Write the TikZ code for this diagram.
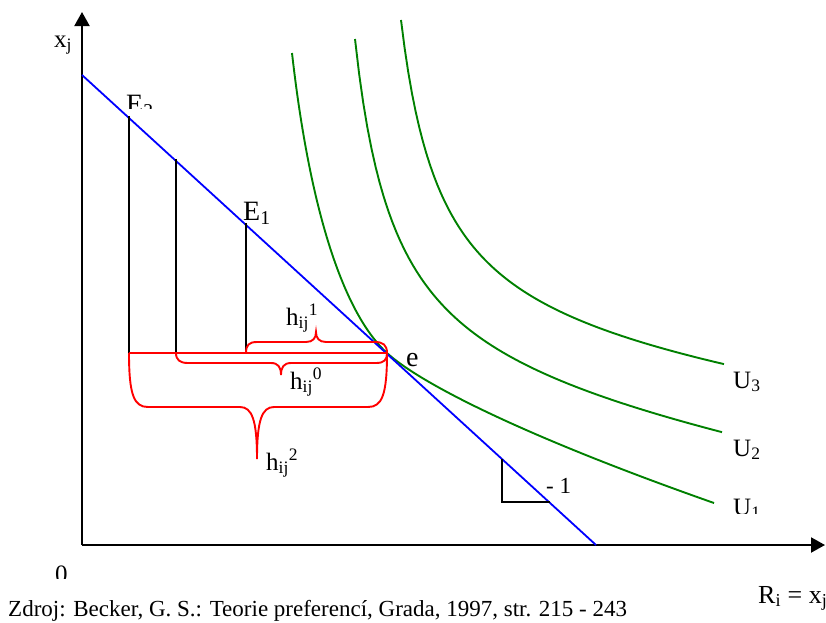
\documentclass[tikz,border=0pt]{standalone}
\usepackage{fontspec}
\setmainfont{Liberation Serif}
\usetikzlibrary{arrows.meta}
\definecolor{ugreen}{RGB}{0,128,0}
\definecolor{ublue}{RGB}{0,0,255}
\definecolor{ured}{RGB}{255,0,0}
\begin{document}
\begin{tikzpicture}[x=1pt,y=-1pt,
  axisline/.style={line width=2pt,-{Triangle[length=14pt,width=15pt]}},
  budget/.style={ublue,line width=1.8pt},
  indiff/.style={ugreen,line width=1.9pt},
  drop/.style={black,line width=1.9pt},
  bracepath/.style={ured,line width=1.9pt},
  lbl/.style={anchor=base west,inner sep=0pt,font=\fontsize{25}{30}\selectfont},
  biglbl/.style={anchor=base west,inner sep=0pt,font=\fontsize{28}{32}\selectfont}]
\useasboundingbox (0,0) rectangle (826,622);

% key points
\coordinate (O) at (82,545);
\coordinate (ytip) at (82,12);
\coordinate (xtip) at (825,545);
\coordinate (B0) at (82,75);
\coordinate (B1) at (596,545);
\coordinate (e) at (387,353);
\coordinate (P2) at (129,116);
\coordinate (P2b) at (129,353);
\coordinate (P3) at (176,159);
\coordinate (P3b) at (176,353);
\coordinate (P1) at (246,223);
\coordinate (P1b) at (246,353);
\coordinate (T1) at (502,459);
\coordinate (T2) at (502,502);
\coordinate (T3) at (550,502);
\coordinate (U1s) at (292,53);
\coordinate (U1e) at (714,503);

% axes
\draw[axisline] (O) -- (ytip);
\draw[axisline] (O) -- (xtip);

% indifference curves
\draw[indiff] (U1s) .. controls (310.8,219.3) and (346.1,315.5) .. (e)
  .. controls (418.4,381.6) and (515.9,433.3) .. (U1e);
\draw[indiff] plot[domain=355:722,samples=90] (\x,{343.4+0.1727*\x-14628/(\x-315)});
\draw[indiff] plot[domain=401:724,samples=90] (\x,{309.1+0.129*\x-13975/(\x-360)});

% budget line
\draw[budget] (B0) -- (B1);

% vertical drops
\draw[drop] (P2) -- (P2b);
\draw[drop] (P3) -- (P3b);
\draw[drop] (P1) -- (P1b);

% slope triangle
\draw[drop] (T1) -- (T2) -- (T3);

% red base line
\draw[bracepath] (P2b) -- (e);

% brace h1 (above)
\draw[bracepath] (P1b) .. controls (246,345) and (249,342) .. (257,342) -- (306,342)
  .. controls (313,342) and (316,338) .. (316,332)
  .. controls (316,338) and (319,342) .. (326,342) -- (375,342)
  .. controls (383,342) and (387,345) .. (e);
% brace h0 (below)
\draw[bracepath] (P3b) .. controls (176,360) and (180,363) .. (188,363) -- (271,363)
  .. controls (278,363) and (281,367) .. (281,375)
  .. controls (281,367) and (284,363) .. (291,363) -- (376,363)
  .. controls (384,363) and (387,360) .. (e);
% brace h2 (big, below)
\draw[bracepath] (P2b) .. controls (129,395) and (134,407) .. (148,407) -- (240,407)
  .. controls (252,407) and (257,420) .. (257,459)
  .. controls (257,420) and (262,407) .. (274,407) -- (368,407)
  .. controls (382,407) and (387,395) .. (e);

% labels
\node[lbl] (lxj) at (54,47) {x\textsubscript{j}};
\begin{scope}
  \clip (100,80) rectangle (170,108);
  \node[biglbl] (lE2) at (126,113) {E\textsubscript{2}};
\end{scope}
\node[biglbl] (lE1) at (243,220) {E\textsubscript{1}};
\node[lbl] (lh1) at (286,325) {h\textsubscript{ij}\textsuperscript{1}};
\node[lbl] (lh0) at (290,389) {h\textsubscript{ij}\textsuperscript{0}};
\node[lbl] (lh2) at (266,470) {h\textsubscript{ij}\textsuperscript{2}};
\node[biglbl] (le) at (406,366) {e};
\node[lbl] (lU3) at (733,388) {U\textsubscript{3}};
\node[lbl] (lU2) at (733,456) {U\textsubscript{2}};
\begin{scope}
  \clip (720,480) rectangle (780,513);
  \node[lbl] (lU1) at (733,515) {U\textsubscript{1}};
\end{scope}
\node[lbl,font=\fontsize{23}{28}\selectfont] (lm1) at (546,493) {- 1};
\begin{scope}
  \clip (40,555) rectangle (80,578);
  \node[lbl] (l0) at (55,582) {0};
\end{scope}
\node[lbl,font=\fontsize{26}{30}\selectfont] (lR) at (758,603) {R\textsubscript{i} = x\textsubscript{j}};
\node[lbl,font=\fontsize{23}{28}\selectfont] (src) at (8,616) {Zdroj: Becker, G. S.: Teorie preferencí, Grada, 1997, str. 215 - 243};
\end{tikzpicture}
\end{document}
